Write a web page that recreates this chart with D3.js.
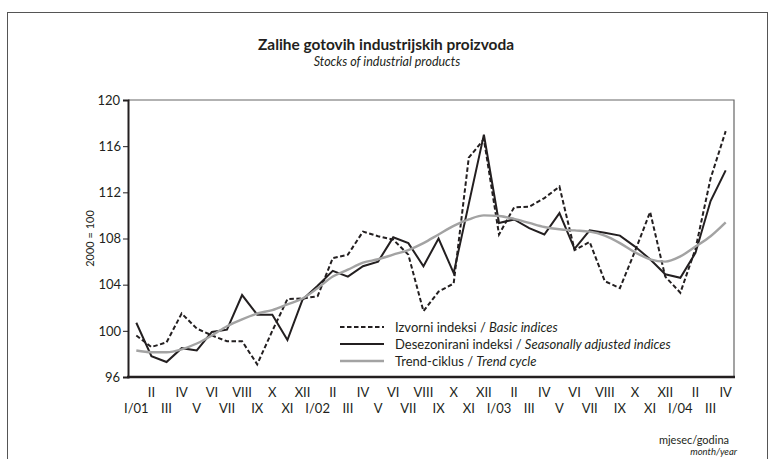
<!DOCTYPE html>
<html>
<head>
<meta charset="utf-8">
<script src="https://cdn.jsdelivr.net/npm/d3@7"></script>
<style>
  body { margin: 0; background: #fff; }
  text { font-family: Lato, "Open Sans", sans-serif; fill: #231f20; }
</style>
</head>
<body>
<svg id="chart" width="774" height="459"></svg>
<script>
// month tick labels, I/01 .. IV/04
const tickLabels = [
  "I/01","II","III","IV","V","VI","VII","VIII","IX","X","XI","XII",
  "I/02","II","III","IV","V","VI","VII","VIII","IX","X","XI","XII",
  "I/03","II","III","IV","V","VI","VII","VIII","IX","X","XI","XII",
  "I/04","II","III","IV"
];

// Izvorni indeksi / Basic indices
const basic = [
  99.6, 98.6, 99.0, 101.5, 100.2, 99.6, 99.1, 99.1, 97.1, 100.0, 102.75, 102.8,
  103.0, 106.3, 106.6, 108.6, 108.2, 107.9, 106.6, 101.7, 103.4, 104.1, 115.0, 116.6,
  108.35, 110.7, 110.75, 111.5, 112.5, 107.0, 107.7, 104.3, 103.7, 106.9, 110.3, 104.7,
  103.3, 107.1, 113.2, 117.3
];

// Desezonirani indeksi / Seasonally adjusted indices
const adjusted = [
  100.7, 97.8, 97.3, 98.5, 98.3, 99.9, 100.1, 103.1, 101.4, 101.4, 99.2, 102.7,
  103.9, 105.2, 104.7, 105.6, 106.0, 108.1, 107.6, 105.6, 108.0, 105.0, 111.0, 117.0,
  109.35, 109.65, 108.9, 108.35, 110.2, 107.1, 108.7, 108.5, 108.25, 107.3, 106.2, 104.9,
  104.6, 106.75, 111.25, 113.9
];

// Trend-ciklus / Trend cycle
const trend = [
  98.3, 98.15, 98.15, 98.4, 98.9, 99.6, 100.4, 101.0, 101.5, 101.8, 102.3, 102.8,
  103.7, 104.7, 105.3, 105.9, 106.2, 106.6, 107.0, 107.6, 108.35, 109.1, 109.65, 110.0,
  109.95, 109.7, 109.35, 109.0, 108.8, 108.7, 108.6, 108.25, 107.6, 106.8, 106.2, 106.0,
  106.45, 107.3, 108.2, 109.4
];

const yTicks = [96, 100, 104, 108, 112, 116, 120];

const svg = d3.select("#chart");
const margin = { left: 128, right: 40, top: 100, bottom: 82 };
const W = 774, H = 459;
const x0 = margin.left, x1 = W - margin.right;
const y0 = H - margin.bottom, y1 = margin.top;

// outer frame
svg.append("rect")
  .attr("x", 7.5).attr("y", 12.5)
  .attr("width", 760).attr("height", 460)
  .attr("fill", "none")
  .attr("stroke", "#555")
  .attr("stroke-width", 1);

// titles
svg.append("text")
  .attr("x", 386).attr("y", 50)
  .attr("text-anchor", "middle")
  .attr("textLength", 256)
  .attr("lengthAdjust", "spacingAndGlyphs")
  .style("font-weight", "bold")
  .style("font-size", "16px")
  .text("Zalihe gotovih industrijskih proizvoda");

svg.append("text")
  .attr("x", 387).attr("y", 66)
  .attr("text-anchor", "middle")
  .style("font-style", "italic")
  .style("font-size", "12.5px")
  .text("Stocks of industrial products");

const x = d3.scalePoint()
  .domain(d3.range(tickLabels.length))
  .range([x0, x1])
  .padding(0.55);

const y = d3.scaleLinear()
  .domain([96, 120])
  .range([y0, y1]);

// top and right border of plot
svg.append("path")
  .attr("d", `M${x0},${y1}H${x1}V${y0}`)
  .attr("fill", "none")
  .attr("stroke", "#666")
  .attr("stroke-width", 1.2);

// y axis
const yAxis = svg.append("g")
  .attr("transform", `translate(${x0},0)`)
  .call(d3.axisLeft(y).tickValues(yTicks).tickSize(5).tickPadding(2).tickFormat(d3.format("d")));
yAxis.select(".domain").attr("stroke", "#231f20").attr("stroke-width", 2);
yAxis.selectAll(".tick line").attr("stroke", "#231f20");
yAxis.selectAll(".tick text")
  .style("font-size", "13px")
  .style("font-family", "Lato, sans-serif")
  .attr("fill", "#231f20");
// 96 and 120 have no tick mark in the reference
yAxis.selectAll(".tick").filter(d => d === 96 || d === 120).select("line").remove();
yAxis.selectAll(".tick").filter(d => d === 96 || d === 120).select("text").attr("x", -8);

// x axis baseline
svg.append("line")
  .attr("x1", x0 - 1).attr("x2", x1 + 1)
  .attr("y1", y0).attr("y2", y0)
  .attr("stroke", "#231f20")
  .attr("stroke-width", 2.4);

// x labels, alternating rows
svg.append("g").selectAll("text")
  .data(tickLabels)
  .enter().append("text")
  .attr("x", (d, i) => x(i))
  .attr("y", (d, i) => i % 2 === 1 ? y0 + 20 : y0 + 36)
  .attr("text-anchor", "middle")
  .style("font-size", "13px")
  .text(d => d);

// y axis title
svg.append("text")
  .attr("transform", `translate(94,${(y0 + y1) / 2}) rotate(-90)`)
  .attr("text-anchor", "middle")
  .style("font-size", "11px")
  .text("2000 = 100");

// unit label bottom right
svg.append("text")
  .attr("x", 729).attr("y", 444)
  .attr("text-anchor", "end")
  .style("font-size", "11px")
  .text("mjesec/godina");
svg.append("text")
  .attr("x", 737).attr("y", 455)
  .attr("text-anchor", "end")
  .style("font-style", "italic")
  .style("font-size", "9.5px")
  .text("month/year");

const linear = d3.line().x((d, i) => x(i)).y(d => y(d));
const smooth = d3.line().x((d, i) => x(i)).y(d => y(d)).curve(d3.curveMonotoneX);

const series = [
  { name: "Izvorni indeksi / ", en: "Basic indices", data: basic, gen: linear, color: "#231f20", width: 2, dash: "4.5,2.5" },
  { name: "Desezonirani indeksi / ", en: "Seasonally adjusted indices", data: adjusted, gen: linear, color: "#231f20", width: 2, dash: null },
  { name: "Trend-ciklus / ", en: "Trend cycle", data: trend, gen: smooth, color: "#a3a3a3", width: 2.4, dash: null }
];

// lines
svg.append("g").selectAll("path")
  .data(series)
  .enter().append("path")
  .attr("d", d => d.gen(d.data))
  .attr("fill", "none")
  .attr("stroke", d => d.color)
  .attr("stroke-width", d => d.width)
  .attr("stroke-dasharray", d => d.dash)
  .attr("stroke-linejoin", "miter");

// legend
const legend = svg.append("g")
  .selectAll("g")
  .data(series)
  .enter().append("g")
  .attr("transform", (d, i) => `translate(340,${327 + i * 17})`);

legend.append("line")
  .attr("x1", 0).attr("x2", 44)
  .attr("stroke", d => d.color)
  .attr("stroke-width", d => d.width)
  .attr("stroke-dasharray", d => d.dash);

const lt = legend.append("text")
  .attr("x", 55).attr("y", 5)
  .style("font-size", "13px");
lt.append("tspan").text(d => d.name);
lt.append("tspan").style("font-style", "italic").text(d => d.en);
</script>
</body>
</html>
